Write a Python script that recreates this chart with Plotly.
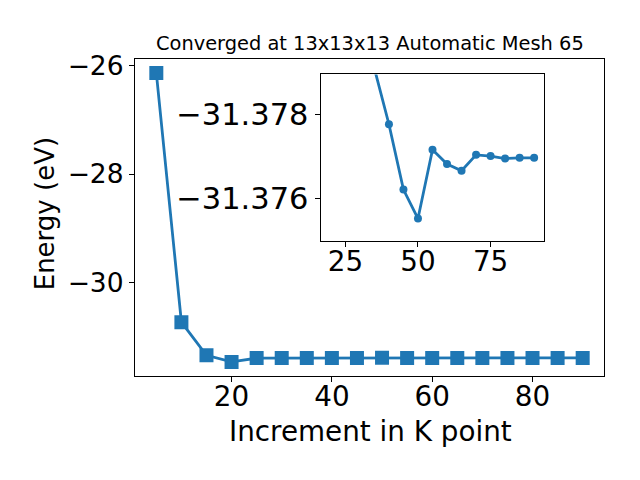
import plotly.graph_objects as go

k_points = [5, 10, 15, 20, 25, 30, 35, 40, 45, 50, 55, 60, 65, 70, 75, 80, 85, 90]
energy = [-26.14, -30.72, -31.33, -31.45, -31.3805, -31.3798, -31.3791, -31.37777,
          -31.37621, -31.37552, -31.37716, -31.37682, -31.37666, -31.37704,
          -31.37701, -31.37695, -31.37697, -31.37697]
inset_k = k_points[3:]
inset_energy = energy[3:]

title_text = "Converged at 13x13x13 Automatic Mesh 65"
x_label = "Increment in K point"
y_label = "Energy (eV)"
main_xticks = [20, 40, 60, 80]
main_yticks = [-30, -28, -26]
inset_xticks = [25, 50, 75]
inset_yticks = [-31.378, -31.376]

W, H = 640, 480
def px_x(p):
    return p / W
def px_y(p):
    q = (p - 6.5) / 0.987
    return 1 - q / H

blue = "#1f77b4"
font = "DejaVu Sans"

fig = go.Figure()
fig.add_trace(go.Scatter(x=k_points, y=energy, mode="lines+markers",
                         line=dict(color=blue, width=2.8),
                         marker=dict(symbol="square", size=14, color=blue),
                         xaxis="x", yaxis="y", showlegend=False))
fig.add_trace(go.Scatter(x=inset_k, y=inset_energy, mode="lines+markers",
                         line=dict(color=blue, width=2.8),
                         marker=dict(symbol="circle", size=8, color=blue),
                         xaxis="x2", yaxis="y2", showlegend=False, cliponaxis=True))

def axis_common(size, standoff=0):
    return dict(showline=True, linecolor="black", linewidth=1.2, mirror=True,
                ticks="outside", ticklen=5, tickwidth=1, tickcolor="black",
                showgrid=False, zeroline=False, ticklabelstandoff=standoff,
                tickfont=dict(family=font, size=size, color="black"))

fig.update_layout(
    width=W, height=H,
    margin=dict(l=0, r=0, t=0, b=0),
    paper_bgcolor="white", plot_bgcolor="white",
    xaxis=dict(domain=[px_x(135), px_x(604)], range=[0.75, 94.25],
               tickvals=main_xticks, anchor="y", **axis_common(27.8, -10)),
    yaxis=dict(domain=[px_y(376), px_y(56.3)], range=[-31.7155, -25.8745],
               tickvals=main_yticks, anchor="x", **axis_common(26.5)),
    xaxis2=dict(domain=[px_x(320.7), px_x(544.3)], range=[16.5, 93.5],
                tickvals=inset_xticks, anchor="y2", **axis_common(27.8, -10)),
    yaxis2=dict(domain=[px_y(240), px_y(72.3)], range=[-31.37498, -31.37896],
                tickvals=inset_yticks, tickformat=".3f", anchor="x2", **axis_common(30.5)),
    annotations=[
        dict(text=title_text, x=px_x(369.5), y=px_y(41), xref="paper", yref="paper",
             showarrow=False, xanchor="center", yanchor="middle",
             font=dict(family=font, size=19.4, color="black")),
        dict(text=x_label, x=px_x(370), y=px_y(431), xref="paper", yref="paper",
             showarrow=False, xanchor="center", yanchor="middle",
             font=dict(family=font, size=27.8, color="black")),
        dict(text=y_label, x=px_x(45), y=px_y(213), xref="paper", yref="paper",
             showarrow=False, xanchor="center", yanchor="middle", textangle=-90,
             font=dict(family=font, size=26, color="black")),
    ],
)

fig.write_html("out.html", config={"displayModeBar": False},
               post_script="document.body.style.margin='0px';document.body.style.padding='0px';")
